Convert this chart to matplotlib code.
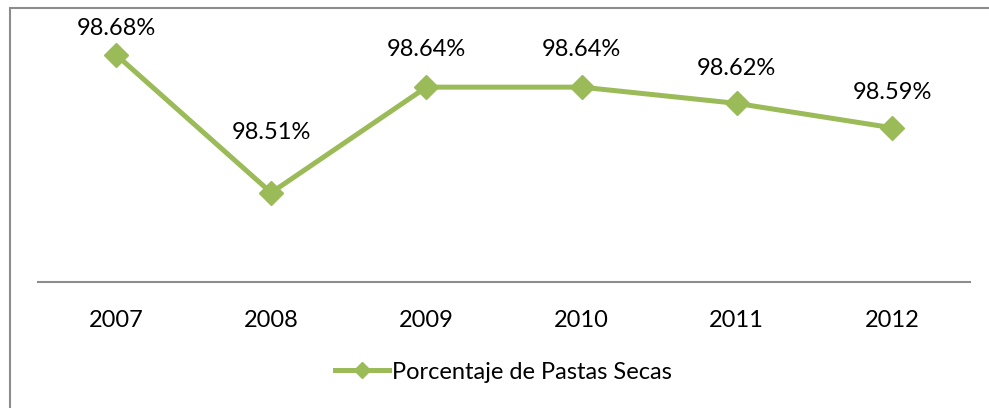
import matplotlib
matplotlib.use("Agg")
import matplotlib.pyplot as plt
from matplotlib.patches import Rectangle

years = ["2007", "2008", "2009", "2010", "2011", "2012"]
values = [98.68, 98.51, 98.64, 98.64, 98.62, 98.59]
series_name = "Porcentaje de Pastas Secas"

# vertical offsets of data labels above their points (points)
label_offsets = [18.7, 43.2, 27.4, 27.4, 25.2, 25.2]

color = "#9BBB59"
plt.rcParams['font.family'] = ['Lato', 'DejaVu Sans']

fig = plt.figure(figsize=(9.89, 4.08), dpi=100)
ax = fig.add_axes([0.0388, 0.3088, 0.9416, 0.597])

x = list(range(len(years)))
ax.plot(x, values, color=color, lw=3.6, marker='D', markersize=12,
        label=series_name, solid_joinstyle='miter')
for xi, v, off in zip(x, values, label_offsets):
    ax.annotate(f"{v:.2f}%", (xi, v), xytext=(0, off), textcoords='offset points',
                ha='center', va='center', fontsize=17, color='black')

ax.set_xlim(-0.5, len(years) - 0.5)
ax.set_ylim(98.40, 98.70)
ax.set_xticks(x)
ax.set_xticklabels(years, fontsize=17)
ax.tick_params(axis='x', length=0, pad=20)
ax.set_yticks([])
for s in ['top', 'right', 'left']:
    ax.spines[s].set_visible(False)
ax.spines['bottom'].set_color('#8c8c8c')
ax.spines['bottom'].set_linewidth(1.5)
ax.patch.set_alpha(0)

fig.legend(loc='center', bbox_to_anchor=(0.509, 0.088), frameon=False,
           fontsize=17, handlelength=2.3, handletextpad=0.1, markerscale=0.65)

fig.patches.append(Rectangle((9.5 / 989, -0.1), 1.2, 1 - 7.5 / 408 + 0.1,
                             transform=fig.transFigure, fill=False,
                             edgecolor='#8c8c8c', lw=1.5, zorder=0))

fig.savefig("out.png", dpi=100)
